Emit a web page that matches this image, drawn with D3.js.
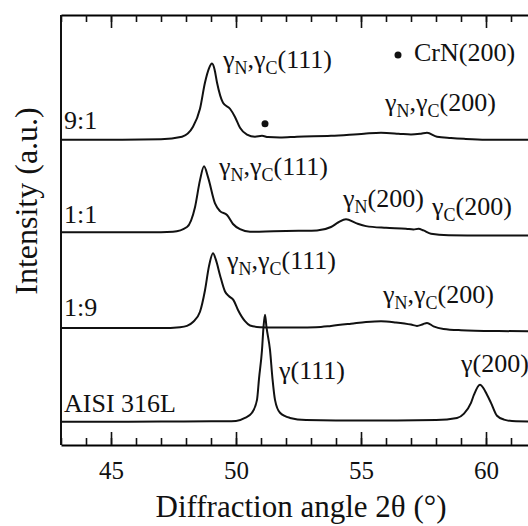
<!DOCTYPE html>
<html>
<head>
<meta charset="utf-8">
<script src="https://cdn.jsdelivr.net/npm/d3@7"></script>
<style>
  html, body { margin: 0; padding: 0; background: #fff; }
  svg text { font-family: "Liberation Serif", "DejaVu Serif", serif; }
</style>
</head>
<body>
<div id="chart"></div>
<script>
// Datos: [2θ (°), intensidad relativa sobre la linea base]
const seriesNames = ['9:1', '1:1', '1:9', 'AISI 316L'];
const offsets = [71.0, 49.5, 27.2, 5.4];

const s91 = [[43, 0], [45, 0], [47, 0.1], [47.84, 0.7], [48.28, 3.0], [48.56, 7.2], [48.76, 13.3], [48.92, 16.6],
  [49.04, 17.7], [49.14, 16.4], [49.24, 13.3], [49.48, 8.6], [49.76, 7.2], [49.96, 5.3], [50.16, 2.8], [50.44, 1.2],
  [50.76, 0.7], [51.04, 0.9], [51.28, 0.6], [51.76, 0.5], [52.44, 0.7], [53.8, 0.9], [55.12, 1.4], [55.8, 1.6],
  [56.5, 1.4], [57.0, 1.2], [57.4, 1.4], [57.64, 1.6], [58.04, 0.7], [58.6, 0.4], [59.12, 0.2], [60, 0], [63, 0]];

const s11 = [[43, 0], [45, 0], [47, 0], [47.48, 0.1], [48.04, 1.2], [48.36, 5.8], [48.56, 12.1], [48.72, 15.3],
  [48.88, 12.8], [49.16, 6.7], [49.36, 4.9], [49.64, 4.0], [49.88, 1.9], [50.16, 0.7], [50.56, 0.1], [51.5, 0.2],
  [52.5, 0.3], [53.24, 0.4], [53.8, 1.2], [54.1, 2.3], [54.4, 3.0], [54.8, 2.1], [55.2, 1.4], [56.0, 1.0],
  [56.8, 0.8], [57.1, 0.6], [57.3, 0.8], [57.5, 0.4], [57.8, -0.35], [58.5, -0.7], [60, -0.8], [63, -0.8]];

const s19 = [[43, 0], [45, 0], [47, 0], [47.76, 0.2], [48.04, 0.5], [48.28, 1.4], [48.56, 3.8], [48.76, 8.8],
  [48.92, 14.4], [49.08, 17.4], [49.2, 15.8], [49.36, 12.3], [49.56, 8.5], [49.72, 7.4], [49.9, 6.5], [50.08, 4.2],
  [50.36, 1.6], [50.56, 0.6], [50.96, 0.2], [51.5, 0.1], [52.5, 0.1], [53.2, 0.2], [53.8, 0.5], [54.6, 1.0],
  [55.2, 1.4], [55.8, 1.6], [56.4, 1.3], [57.0, 0.8], [57.24, 0.5], [57.48, 0.9], [57.64, 1.2], [57.9, 0.4],
  [58.3, -0.2], [59, -0.5], [60.5, -0.7], [63, -0.8]];

const sAisi = [[43, 0], [45, 0], [47, 0.05], [49, 0.1], [50, 0.2], [50.36, 0.9], [50.64, 2.1], [50.84, 5.1],
  [50.92, 10.0], [51.04, 16.7], [51.1, 22.0], [51.16, 24.9], [51.22, 22.0], [51.36, 16.7], [51.46, 10.0],
  [51.56, 5.1], [51.76, 2.1], [52.16, 0.9], [52.8, 0.4], [54, 0.3], [56, 0.3], [58, 0.4], [58.84, 0.9],
  [59.12, 1.9], [59.4, 4.4], [59.52, 6.3], [59.76, 8.6], [60.04, 6.3], [60.2, 4.4], [60.44, 1.4], [60.72, 0.5],
  [61.2, 0.1], [63, 0]];

const allSeries = [s91, s11, s19, sAisi];

// Pico CrN(200) marcado en 9:1
const crnPeak = [[51.16, 3.7]];

// Ticks del eje x
const majorTicks = [45, 50, 55, 60];
const minorTicks = d3.range(43, 64, 1);

// Etiquetas de picos: partes [texto, esSubindice]
const peakLabels = [
  { x: 49.48, y: 87.6, parts: [['γ', 0], ['N', 1], [',γ', 0], ['C', 1], ['(111)', 0]] },
  { x: 55.96, y: 77.7, parts: [['γ', 0], ['N', 1], [',γ', 0], ['C', 1], ['(200)', 0]] },
  { x: 49.32, y: 62.8, parts: [['γ', 0], ['N', 1], [',γ', 0], ['C', 1], ['(111)', 0]] },
  { x: 54.28, y: 55.3, parts: [['γ', 0], ['N', 1], ['(200)', 0]] },
  { x: 57.84, y: 53.5, parts: [['γ', 0], ['C', 1], ['(200)', 0]] },
  { x: 49.64, y: 40.9, parts: [['γ', 0], ['N', 1], [',γ', 0], ['C', 1], ['(111)', 0]] },
  { x: 55.88, y: 33.0, parts: [['γ', 0], ['N', 1], [',γ', 0], ['C', 1], ['(200)', 0]] },
  { x: 51.72, y: 15.3, parts: [['γ(111)', 0]] },
  { x: 59.0, y: 17.0, parts: [['γ(200)', 0]] }
];
const nameLabelPos = [[43.12, 73.4], [43.12, 51.6], [43.12, 30.0], [43.12, 7.7]];
const legendDot = [56.48, 90.7];
const legendText = [57.12, 89.2, 'CrN(200)'];

// Lienzo
const width = 528, height = 526;
const svg = d3.select('#chart').append('svg').attr('width', width).attr('height', height);

const x = d3.scaleLinear().domain([43, 63]).range([61, 561]);
const y = d3.scaleLinear().domain([0, 100]).range([445, 15]);

// Ejes (ticks hacia adentro)
svg.append('g').attr('transform', 'translate(0,445)')
  .call(d3.axisBottom(x).tickValues(minorTicks).tickSizeInner(-7).tickSizeOuter(0).tickFormat(''))
  .call(g => g.select('.domain').attr('stroke-width', 2));
svg.append('g').attr('class', 'xmajor').attr('transform', 'translate(0,445)')
  .call(d3.axisBottom(x).tickValues(majorTicks).tickSizeInner(-13).tickSizeOuter(0).tickPadding(16).tickFormat(d3.format('d')))
  .call(g => g.select('.domain').remove());
svg.append('g').attr('transform', 'translate(0,15)')
  .call(d3.axisTop(x).tickValues(minorTicks).tickSizeInner(-7).tickSizeOuter(0).tickFormat(''))
  .call(g => g.select('.domain').attr('stroke-width', 2));
svg.append('g').attr('transform', 'translate(0,15)')
  .call(d3.axisTop(x).tickValues(majorTicks).tickSizeInner(-13).tickSizeOuter(0).tickFormat(''))
  .call(g => g.select('.domain').remove());
svg.selectAll('g').attr('font-family', null);
svg.selectAll('.tick line').attr('stroke', '#111').attr('stroke-width', 1.6);
svg.selectAll('.xmajor text').attr('font-size', 25).attr('fill', '#111');

svg.append('line')
  .attr('x1', x(43)).attr('x2', x(43)).attr('y1', y(100)).attr('y2', y(0))
  .attr('stroke', '#111').attr('stroke-width', 2);

// Curvas
const line = d3.line()
  .x(d => x(d[0]))
  .y(d => y(d[1]))
  .curve(d3.curveMonotoneX);

allSeries.forEach((s, i) => {
  svg.append('path')
    .datum(s.map(d => [d[0], d[1] + offsets[i]]))
    .attr('d', line)
    .attr('fill', 'none')
    .attr('stroke', '#111')
    .attr('stroke-width', 2)
    .attr('stroke-linejoin', 'round');
});

// Punto CrN
svg.selectAll('circle.crn')
  .data(crnPeak)
  .enter()
  .append('circle')
  .attr('cx', d => x(d[0]))
  .attr('cy', d => y(d[1] + offsets[0]))
  .attr('r', 3.5)
  .attr('fill', '#111');

// Nombres de las muestras
seriesNames.forEach((n, i) => {
  svg.append('text')
    .attr('x', x(nameLabelPos[i][0]))
    .attr('y', y(nameLabelPos[i][1]))
    .attr('font-size', 26)
    .attr('fill', '#111')
    .text(n);
});

// Etiquetas de picos
peakLabels.forEach(l => {
  const t = svg.append('text')
    .attr('x', x(l.x))
    .attr('y', y(l.y))
    .attr('font-size', 26)
    .attr('fill', '#111');
  let down = false;
  l.parts.forEach(p => {
    const ts = t.append('tspan').text(p[0]);
    if (p[1] && !down) { ts.attr('font-size', 18).attr('dy', 6); down = true; }
    else if (!p[1] && down) { ts.attr('dy', -6); down = false; }
  });
});

// Leyenda CrN
svg.append('circle')
  .attr('cx', x(legendDot[0])).attr('cy', y(legendDot[1]))
  .attr('r', 3.5).attr('fill', '#111');
svg.append('text')
  .attr('x', x(legendText[0])).attr('y', y(legendText[1]))
  .attr('font-size', 26).attr('fill', '#111')
  .text(legendText[2]);

// Titulos de ejes
svg.append('text')
  .attr('x', 301).attr('y', 517)
  .attr('text-anchor', 'middle')
  .attr('font-size', 31).attr('fill', '#111')
  .text('Diffraction angle 2θ (°)');

svg.append('text')
  .attr('transform', 'translate(37,201) rotate(-90)')
  .attr('text-anchor', 'middle')
  .attr('font-size', 32).attr('fill', '#111')
  .text('Intensity (a.u.)');
</script>
</body>
</html>
